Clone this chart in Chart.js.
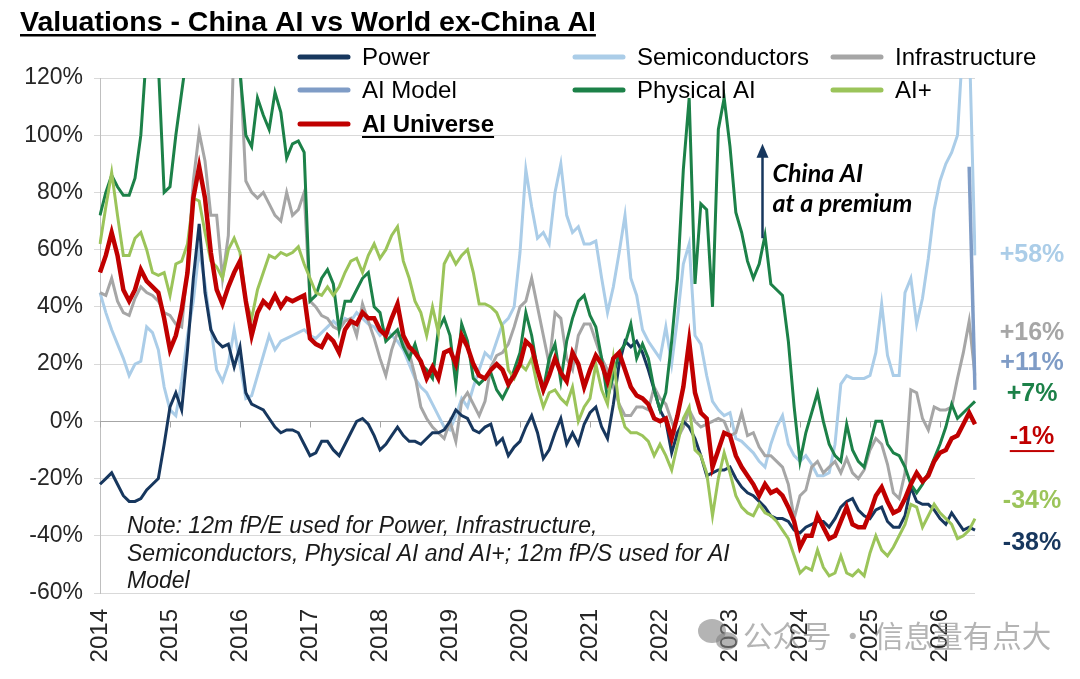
<!DOCTYPE html>
<html>
<head>
<meta charset="utf-8">
<title>Valuations - China AI vs World ex-China AI</title>
<script src="https://cdn.jsdelivr.net/npm/chart.js@4.4.1/dist/chart.umd.min.js"></script>
<style>
  html, body { margin: 0; padding: 0; background: #fff; }
  #chart { display: block; }
</style>
</head>
<body>
<canvas id="chart" width="1080" height="679"></canvas>
<script>
// year tick labels, one per January (monthly data Jan 2014 - Jul 2026)
var years = ['2014', '2015', '2016', '2017', '2018', '2019', '2020', '2021', '2022', '2023', '2024', '2025', '2026'];

// premium / discount vs world ex-China, %
var power = [
  -22, -20, -18, -22, -26, -28, -28, -27, -24, -22,
  -20, -8, 5, 10, 4, 25, 50, 69, 45, 32,
  28, 26, 27, 19, 26, 10, 6, 5, 4, 1,
  -2, -4, -3, -3, -4, -8, -12, -11, -7, -7,
  -10, -12, -8, -4, 0, 1, -1, -5, -10, -8,
  -5, -2, -5, -7, -7, -8, -6, -4, -4, -3,
  0, 4, 2, 1, -3, -4, -2, -1, -8, -6,
  -12, -9, -7, -2, 2, -4, -13, -10, -4, 1,
  -8, -4, -8, -1, 3, 5, -2, -6, 6, 20,
  28, 26, 28, 24, 18, 11, 4, 0, -11, -4,
  0, -2, -6, -12, -19, -18, -17, -17, -16, -20,
  -23, -25, -26, -28, -30, -33, -34, -34, -35, -38,
  -39, -37, -36, -35, -35, -37, -34, -30, -28, -27,
  -31, -33, -34, -31, -30, -35, -37, -37, -33, -23,
  -28, -29, -29, -31, -34, -36, -32, -35, -38, -37,
  -38
];
var semis = [
  45, 38, 32, 27, 22, 16, 20, 21, 33, 31,
  25, 12, 4, 2, 14, 30, 42, 60, 48, 33,
  18, 14, 20, 32, 20, 8, 9, 16, 23, 30,
  25, 28, 29, 30, 31, 32, 30, 29, 31, 33,
  35, 33, 36, 35, 38, 36, 34, 33, 30, 32,
  30, 28, 25, 20, 15, 12, 10, 6, 2, -2,
  -3, 2, 8, 5, 12, 18, 24, 22, 28, 34,
  36, 40, 59, 88, 75, 64, 66, 62, 80, 90,
  72, 66, 68, 62, 62, 63, 50, 38, 47, 59,
  72, 50, 44, 32, 28, 25, 22, 33, 20, 36,
  55, 62, 30, 27, 16, 7, 4, 2, 3, -6,
  -7, -9, -11, -14, -16, -8, -2, 2, -8, -12,
  -14, -12, -15, -19, -19, -18, -8, 13, 16, 15,
  15, 15, 16, 24, 41, 23, 16, 16, 45, 50,
  34, 43, 57, 74, 84, 90, 94, 100, 135, 135,
  58
];
var infra = [
  45, 44, 50, 42, 38, 37, 43, 47, 45, 44,
  42, 38, 37, 34, 33, 54, 84, 101, 91, 72,
  72, 50, 65, 135, 125, 84, 80, 78, 80, 76,
  72, 70, 80, 72, 74, 80, 42, 40, 37, 36,
  33, 32, 35, 36, 30, 41, 35, 29, 22, 16,
  25, 31, 28, 24, 16, 5, 1, -2, -4, -6,
  0, -7, 7, 10, 6, 2, 7, 19, 23, 24,
  27, 33, 40, 42, 50, 40, 30, 20, 38, 36,
  22, 18, 30, 34, 34, 28, 22, 18, 12, 6,
  2, 2, 5, 5, 4, 12, 8, 6, 0, -6,
  -2, 4, 0, -2, -1, 0, 1, 0, -5, -4,
  3, -5, -4, -9, -12, -12, -14, -16, -22, -34,
  -26, -24, -16, -14, -18, -16, -14, -18, -13, -18,
  -20, -17, -10, -6, -8, -15, -25, -27, -18, 11,
  10, 1, -3, 5, 4, 4, 5, 15, 24, 35,
  16
];
// AI Model history only covers the last two months
var aiModelTail = [89, 11];
var physical = [
  72, 80, 86, 82, 79, 79, 85, 100, 130, 140,
  125, 80, 82, 100, 115, 130, 150, 160, 150, 150,
  145, 150, 145, 140, 122, 100, 96, 113, 107, 102,
  115, 108, 92, 97, 98, 94, 42, 44, 50, 53,
  48, 32, 42, 42, 46, 50, 52, 40, 38, 28,
  30, 32, 26, 22, 27, 20, 18, 15, 32, 36,
  30, 13, 34, 28, 15, 13, 15, 17, 11, 8,
  12, 18, 24, 38, 30, 18, 11, 22, 27, 14,
  28, 36, 42, 44, 37, 33, 22, 8, 16, 24,
  27, 34, 22, 27, 22, 11, 4, 10, 28, 50,
  88, 113, 48, 76, 74, 40, 102, 113, 96, 73,
  66, 56, 50, 55, 65, 48, 46, 44, 28, 5,
  -14, -4, 3, 10, 0, -8, -12, -14, -1, -10,
  -14, -16, -8, 0, 0, -8, -11, -12, -16, -22,
  -25, -22, -18, -13, -8, -2, 6, 1, 3, 5,
  7
];
var aiPlus = [
  62, 75, 87, 72, 58, 58, 64, 66, 60, 52,
  51, 52, 44, 55, 56, 62, 78, 77, 66, 56,
  54, 50, 60, 64, 59, 42, 36, 46, 52, 58,
  57, 59, 58, 59, 61, 55, 50, 45, 44, 47,
  44, 47, 52, 56, 57, 52, 58, 62, 57, 60,
  65, 68, 56, 50, 42, 38, 30, 40, 31, 55,
  59, 55, 58, 60, 52, 41, 41, 40, 38, 33,
  18, 15, 20, 18, 22, 12, 5, 10, 11, 8,
  6, 12, 0, 5, 8, 20, 11, 6, 22, 5,
  -2, -4, -4, -5, -7, -12, -8, -12, -17, -8,
  1, 5, -10, -12, -18, -33, -20, -11, -18, -26,
  -30, -32, -33, -29, -32, -33, -35, -38, -41, -47,
  -53, -51, -52, -45, -51, -54, -53, -47, -53, -54,
  -52, -54, -46, -40, -45, -47, -44, -40, -36, -29,
  -30, -37, -33, -29, -32, -34, -36, -41, -40, -38,
  -34
];
var universe = [
  52, 58, 66, 58, 46, 42, 46, 53, 49, 47,
  45, 36, 25, 30, 39, 52, 78, 89, 78, 59,
  46, 41, 47, 52, 56, 42, 30, 38, 42, 40,
  44, 40, 43, 42, 43, 44, 29, 27, 26, 30,
  28, 24, 32, 35, 34, 38, 36, 36, 32, 30,
  36, 41, 30, 26, 24, 21, 15, 19, 15, 24,
  25, 20, 30, 26, 20, 16, 15, 18, 20, 18,
  13, 16, 20, 28, 26, 18, 11, 16, 22, 17,
  14, 24, 20, 12, 18, 23, 20, 14, 22, 24,
  18, 12, 9, 8, 6, 1, 0, 1, -6, 2,
  12, 28, 10, 3, 1, -16, -10, -4, -5, -12,
  -16, -19, -22, -26, -22, -25, -24, -26, -30, -35,
  -44, -40, -40, -33, -37, -41, -40, -35, -30, -36,
  -37, -37, -32, -26, -23, -28, -32, -31, -27, -22,
  -18, -21, -19, -14, -11, -10, -6, -5, -1, 3,
  -1
];

var titleText = 'Valuations - China AI vs World ex-China AI';
var legendOrder = ['Power', 'Semiconductors', 'Infrastructure', 'AI Model', 'Physical AI', 'AI+', 'AI Universe'];
var noteLines = [
  'Note: 12m fP/E used for Power, Infrastructure,',
  'Semiconductors, Physical AI and AI+; 12m fP/S used for AI',
  'Model'
];
var calloutLines = ['China AI', 'at a premium'];
var watermark = '公众号 · 信息量有点大';

// end-of-line labels: which series, and where (in % units) the label sits
var endLabelSeries = ['Semiconductors', 'Infrastructure', 'AI Model', 'Physical AI', 'AI Universe', 'AI+', 'Power'];
var endLabelAt = [58, 31, 20.5, 9.5, -5.5, -28, -42.5];

var months = [];
for (var i = 0; i < power.length; i++) {
  months.push(years[Math.floor(i / 12)] + '-' + ('0' + (i % 12 + 1)).slice(-2));
}
var aiModel = [];
for (var j = 0; j < power.length - aiModelTail.length; j++) aiModel.push(null);
aiModel = aiModel.concat(aiModelTail);

function line(label, values, color, width) {
  return {
    label: label,
    data: values,
    borderColor: color,
    backgroundColor: color,
    borderWidth: width,
    pointRadius: 0,
    pointHoverRadius: 0,
    tension: 0,
    fill: false,
    spanGaps: false
  };
}

var FONT = '"Liberation Sans", Arial, sans-serif';

var overlay = {
  id: 'overlay',
  beforeDatasetsDraw: function(chart) {
    // 0% axis line with a tick mark at each January
    var ctx = chart.ctx, area = chart.chartArea;
    var xs = chart.scales.x, ys = chart.scales.y;
    var y0 = Math.round(ys.getPixelForValue(0)) + 0.5;
    ctx.save();
    ctx.strokeStyle = '#A6A6A6';
    ctx.lineWidth = 1;
    ctx.beginPath();
    ctx.moveTo(area.left, y0);
    ctx.lineTo(area.right, y0);
    for (var k = 0; k < years.length; k++) {
      var px = Math.round(xs.getPixelForValue(k * 12)) + 0.5;
      ctx.moveTo(px, y0);
      ctx.lineTo(px, y0 + 6);
    }
    ctx.stroke();
    ctx.restore();
  },
  afterDraw: function(chart) {
    var ctx = chart.ctx, area = chart.chartArea;
    var xs = chart.scales.x, ys = chart.scales.y;
    var sets = chart.data.datasets;
    function byLabel(name) {
      for (var n = 0; n < sets.length; n++) if (sets[n].label === name) return sets[n];
    }
    ctx.save();

    // title
    ctx.fillStyle = '#000';
    ctx.textAlign = 'left';
    ctx.textBaseline = 'alphabetic';
    ctx.font = 'bold 28.5px ' + FONT;
    ctx.fillText(titleText, 20, 31);
    ctx.fillRect(20, 34, ctx.measureText(titleText).width, 2.5);

    // legend, three columns
    var colX = [300, 575, 833], rowY = [57, 90, 124];
    ctx.textBaseline = 'middle';
    legendOrder.forEach(function(name, k) {
      var ds = byLabel(name);
      var x = colX[k % 3], y = rowY[Math.floor(k / 3)];
      ctx.strokeStyle = ds.borderColor;
      ctx.lineWidth = 5;
      ctx.lineCap = 'round';
      ctx.beginPath();
      ctx.moveTo(x, y);
      ctx.lineTo(x + 48, y);
      ctx.stroke();
      ctx.fillStyle = '#000';
      var bold = name === 'AI Universe';
      ctx.font = (bold ? 'bold ' : '') + '24px ' + FONT;
      ctx.fillText(name, x + 62, y + 1);
      if (bold) ctx.fillRect(x + 62, y + 12, ctx.measureText(name).width, 2);
    });

    // note
    ctx.fillStyle = '#1a1a1a';
    ctx.font = 'italic 23px ' + FONT;
    noteLines.forEach(function(t, k) {
      ctx.fillText(t, area.left + 27, area.bottom - 66 + k * 27.5);
    });

    // end labels
    ctx.textAlign = 'center';
    ctx.font = 'bold 25px ' + FONT;
    endLabelSeries.forEach(function(name, k) {
      var ds = byLabel(name);
      var last = ds.data[ds.data.length - 1];
      var txt = (last > 0 ? '+' : '') + last + '%';
      var y = ys.getPixelForValue(endLabelAt[k]);
      var x = area.right + 57;
      ctx.fillStyle = ds.borderColor;
      ctx.fillText(txt, x, y);
      if (name === 'AI Universe') {
        var w = ctx.measureText(txt).width;
        ctx.fillRect(x - w / 2, y + 13, w, 2);
      }
    });

    // "China AI at a premium" arrow
    var ax = Math.round(xs.getPixelForValue(113.5)) + 0.5;
    var yBase = ys.getPixelForValue(64), yTip = ys.getPixelForValue(97);
    ctx.strokeStyle = '#17375E';
    ctx.fillStyle = '#17375E';
    ctx.lineWidth = 2.5;
    ctx.lineCap = 'butt';
    ctx.beginPath();
    ctx.moveTo(ax, yBase);
    ctx.lineTo(ax, yTip + 10);
    ctx.stroke();
    ctx.beginPath();
    ctx.moveTo(ax, yTip);
    ctx.lineTo(ax - 6, yTip + 14);
    ctx.lineTo(ax + 6, yTip + 14);
    ctx.closePath();
    ctx.fill();
    ctx.fillStyle = '#000';
    ctx.textAlign = 'left';
    ctx.font = 'italic bold 25px Lato, "Open Sans", sans-serif';
    var tx = xs.getPixelForValue(115.3);
    ctx.fillText(calloutLines[0], tx, ys.getPixelForValue(86.4));
    ctx.fillText(calloutLines[1], tx, ys.getPixelForValue(75.9));

    // watermark
    ctx.fillStyle = 'rgba(130,130,130,0.6)';
    ctx.beginPath();
    ctx.ellipse(712, 631, 14, 12, 0, 0, Math.PI * 2);
    ctx.fill();
    ctx.beginPath();
    ctx.ellipse(727, 641, 11, 9, 0, 0, Math.PI * 2);
    ctx.fill();
    ctx.font = '29.5px "Noto Sans CJK SC", sans-serif';
    ctx.fillText(watermark, 743, 636);

    ctx.restore();
  }
};

var chart = new Chart(document.getElementById('chart').getContext('2d'), {
  type: 'line',
  data: {
    labels: months,
    datasets: [
      line('AI Universe', universe, '#C00000', 4.5),
      line('AI+', aiPlus, '#9BC45A', 3),
      line('Physical AI', physical, '#1C8148', 3),
      line('Power', power, '#17375E', 3),
      line('AI Model', aiModel, '#7F9CC6', 3.5),
      line('Infrastructure', infra, '#A6A6A6', 3),
      line('Semiconductors', semis, '#ABCDE8', 3)
    ]
  },
  options: {
    responsive: false,
    animation: false,
    devicePixelRatio: 1,
    layout: { padding: { top: 78, right: 105, bottom: 0, left: 0 } },
    plugins: {
      legend: { display: false },
      tooltip: { enabled: false }
    },
    scales: {
      x: {
        type: 'category',
        offset: false,
        grid: { display: false },
        border: { display: false },
        ticks: {
          autoSkip: false,
          minRotation: 90,
          maxRotation: 90,
          padding: 8,
          color: '#262626',
          font: { family: FONT, size: 24 },
          callback: function(value, index) {
            return index % 12 === 0 ? years[index / 12] : '';
          }
        },
        afterFit: function(scale) { scale.height = 86; }
      },
      y: {
        min: -60,
        max: 120,
        grid: { color: '#D9D9D9', lineWidth: 1, tickLength: 6 },
        border: { display: true, color: '#BFBFBF' },
        ticks: {
          stepSize: 20,
          padding: 11,
          color: '#262626',
          font: { family: FONT, size: 23 },
          callback: function(v) { return v + '%'; }
        },
        afterFit: function(scale) { scale.width = 100; }
      }
    }
  },
  plugins: [overlay]
});
</script>
</body>
</html>
